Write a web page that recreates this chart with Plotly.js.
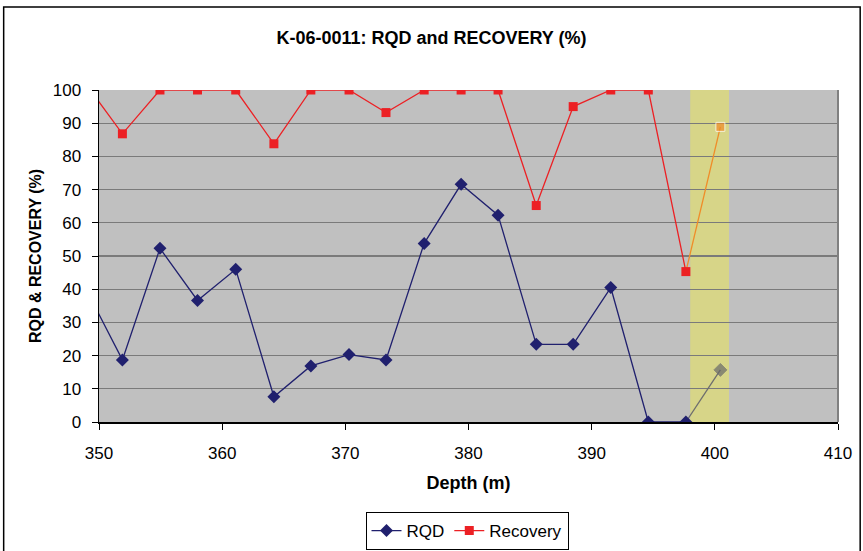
<!DOCTYPE html>
<html>
<head>
<meta charset="utf-8">
<script src="https://cdn.plot.ly/plotly-3.0.1.min.js"></script>
<style>html,body{margin:0;padding:0;background:#fff;}#chart{width:863px;height:551px;}</style>
</head>
<body>
<div id="chart"></div>
<script>
// Depths (m) of each interval
var depth = [349.3, 351.9, 354.95, 358.0, 361.1, 364.2, 367.2, 370.3, 373.3, 376.4, 379.4, 382.4, 385.5, 388.5, 391.55, 394.6, 397.65];
var rqd = [37.5, 18.7, 52.3, 36.6, 46, 7.6, 16.9, 20.3, 18.7, 53.8, 71.6, 62.3, 23.4, 23.4, 40.5, 0, 0];
var recovery = [100, 86.8, 100, 100, 100, 83.8, 100, 100, 93.2, 100, 100, 100, 65.2, 95, 100, 100, 45.3];
// Last (highlighted) interval
var lastDepth = [397.65, 400.45];
var lastRqd = [0, 15.7];
var lastRecovery = [45.3, 88.9];
var bandRange = [398.0, 401.15];
var xTicks = [350, 360, 370, 380, 390, 400, 410];
var yTicks = [0, 10, 20, 30, 40, 50, 60, 70, 80, 90, 100];

var navy = 'rgb(32,32,110)';
var red = 'rgb(236,32,36)';
var FONT = 'Liberation Sans, Arial, sans-serif';

var traces = [
  {x: lastDepth, y: lastRqd, mode: 'lines+markers', showlegend: false, hoverinfo: 'skip',
   line: {color: 'rgb(110,110,110)', width: 1.3},
   marker: {symbol: 'diamond', size: [0, 10], color: 'rgb(105,105,105)'}},
  {x: lastDepth, y: lastRecovery, mode: 'lines+markers', showlegend: false, hoverinfo: 'skip',
   line: {color: 'rgb(240,140,40)', width: 1.3},
   marker: {symbol: 'square', size: [0, 9], color: 'rgb(240,140,40)'}},
  {x: depth, y: rqd, name: 'RQD', mode: 'lines+markers',
   line: {color: navy, width: 1.3},
   marker: {symbol: 'diamond', size: 10, color: navy}},
  {x: depth, y: recovery, name: 'Recovery', mode: 'lines+markers',
   line: {color: red, width: 1.3},
   marker: {symbol: 'square', size: 9, color: red}}
];

var layout = {
  width: 863, height: 551,
  margin: {l: 99, r: 25, t: 90, b: 129},
  paper_bgcolor: '#ffffff',
  plot_bgcolor: 'rgb(192,192,192)',
  font: {family: FONT, size: 17, color: '#000'},
  title: {text: '<b>K-06-0011: RQD and RECOVERY (%)</b>', x: 0.5, xref: 'container', xanchor: 'center',
          y: 1 - 38 / 551, yref: 'container', yanchor: 'middle',
          font: {size: 18, family: FONT}},
  xaxis: {range: [350, 410], tickvals: xTicks, ticktext: xTicks.map(String), showgrid: false, zeroline: false,
          showline: true, linecolor: '#000', linewidth: 1.5, ticks: 'outside', ticklen: 6, tickcolor: '#000',
          tickfont: {size: 17}, ticklabelstandoff: 9, automargin: false,
          title: {text: '<b>Depth (m)</b>', font: {size: 18}, standoff: 14}},
  yaxis: {range: [0, 100], tickvals: yTicks, showgrid: true, gridcolor: 'rgb(122,122,122)', gridwidth: 1.2, zeroline: false,
          showline: true, linecolor: '#000', linewidth: 1.5, ticks: 'outside', ticklen: 6, tickcolor: '#000',
          tickfont: {size: 17}, ticklabelstandoff: 7, automargin: false,
          title: {text: '<b>RQD & RECOVERY (%)</b>', font: {size: 16}, standoff: 7}},
  shapes: [
    {type: 'rect', xref: 'x', yref: 'paper', x0: bandRange[0], x1: bandRange[1], y0: 0, y1: 1,
     fillcolor: 'rgb(218,215,128)', opacity: 0.88, line: {width: 0}, layer: 'between'},
    {type: 'line', xref: 'paper', yref: 'paper', x0: 1, x1: 1, y0: 0, y1: 1,
     line: {color: 'rgb(128,128,128)', width: 2}, layer: 'above'},
    {type: 'rect', xref: 'paper', yref: 'paper', x0: -0.129, x1: 1.03, y0: -0.42, y1: 1.25,
     line: {color: '#000', width: 1.5}, fillcolor: 'rgba(0,0,0,0)', layer: 'below'}
  ],
  showlegend: true,
  legend: {orientation: 'h', x: 467 / 863, xref: 'container', xanchor: 'center',
           y: 1 - 512 / 551, yref: 'container', yanchor: 'top',
           bordercolor: '#000', borderwidth: 1, bgcolor: '#fff', font: {size: 17}, traceorder: 'normal'}
};

Plotly.newPlot('chart', traces, layout, {displayModeBar: false, staticPlot: true});
</script>
</body>
</html>
